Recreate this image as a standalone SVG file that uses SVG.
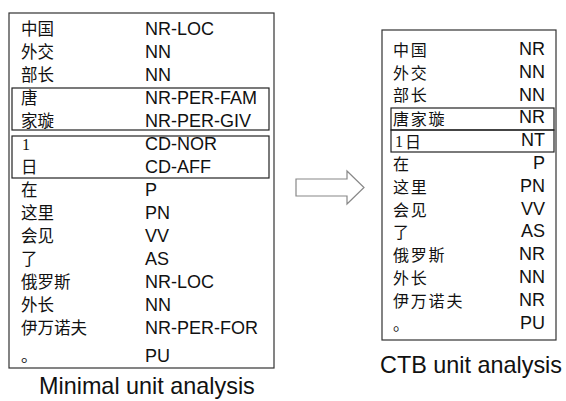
<svg xmlns="http://www.w3.org/2000/svg" width="566" height="401" viewBox="0 0 566 401">
<style>
.box{fill:none;stroke:#333;stroke-width:1.2}
.sub{fill:none;stroke:#222;stroke-width:1.2}
.zh{font-family:"Noto Sans CJK SC","Noto Sans",sans-serif;font-size:16.5px;fill:#111}
.zr{font-family:"Noto Sans CJK SC","Noto Sans",sans-serif;font-size:16px;letter-spacing:1.8px;fill:#111}
.num{font-family:"Liberation Serif",serif;font-size:16px;fill:#111}
.tag{font-family:"Liberation Sans",Arial,sans-serif;font-size:18px;fill:#111}
.tagr{font-family:"Liberation Sans",Arial,sans-serif;font-size:18px;fill:#111;text-anchor:end}
.cap{font-family:"Liberation Sans",Arial,sans-serif;font-size:23.4px;fill:#111}
</style>
<rect width="566" height="401" fill="#fff"/>
<g id="minimal">
<rect class="box" x="9" y="13" width="265" height="355"/>
<rect class="sub" x="12" y="88" width="257" height="42"/>
<rect class="sub" x="12" y="136" width="257" height="42"/>
<text class="zh" x="21" y="35">中国</text><text class="tag" x="145" y="35">NR-LOC</text>
<text class="zh" x="21" y="58">外交</text><text class="tag" x="145" y="58">NN</text>
<text class="zh" x="21" y="81">部长</text><text class="tag" x="145" y="81">NN</text>
<text class="zh" x="21" y="104">唐</text><text class="tag" x="145" y="104">NR-PER-FAM</text>
<text class="zh" x="21" y="127">家璇</text><text class="tag" x="145" y="127">NR-PER-GIV</text>
<text class="num" x="22" y="150">1</text><text class="tag" x="145" y="150">CD-NOR</text>
<text class="zh" x="21" y="173">日</text><text class="tag" x="145" y="173">CD-AFF</text>
<text class="zh" x="21" y="196">在</text><text class="tag" x="145" y="196">P</text>
<text class="zh" x="21" y="219">这里</text><text class="tag" x="145" y="219">PN</text>
<text class="zh" x="21" y="242">会见</text><text class="tag" x="145" y="242">VV</text>
<text class="zh" x="21" y="265">了</text><text class="tag" x="145" y="265">AS</text>
<text class="zh" x="21" y="288">俄罗斯</text><text class="tag" x="145" y="288">NR-LOC</text>
<text class="zh" x="21" y="311">外长</text><text class="tag" x="145" y="311">NN</text>
<text class="zh" x="21" y="334">伊万诺夫</text><text class="tag" x="145" y="334">NR-PER-FOR</text>
<text class="zh" x="21" y="362">。</text><text class="tag" x="145" y="362">PU</text>
</g>
<g id="ctb">
<rect class="box" x="382" y="30" width="174" height="310"/>
<rect class="sub" x="391" y="108" width="163" height="22"/>
<rect class="sub" x="391" y="130" width="163" height="22"/>
<text class="zr" x="393" y="56">中国</text><text class="tagr" x="545" y="55">NR</text>
<text class="zr" x="393" y="79">外交</text><text class="tagr" x="545" y="78">NN</text>
<text class="zr" x="393" y="101">部长</text><text class="tagr" x="545" y="100.6">NN</text>
<text class="zr" x="393" y="124.5">唐家璇</text><text class="tagr" x="545" y="123.4">NR</text>
<text class="num" x="395" y="147">1</text><text class="zr" x="405" y="147.5">日</text><text class="tagr" x="545" y="146.2">NT</text>
<text class="zr" x="393" y="170">在</text><text class="tagr" x="545" y="169">P</text>
<text class="zr" x="393" y="193">这里</text><text class="tagr" x="545" y="191.8">PN</text>
<text class="zr" x="393" y="215.5">会见</text><text class="tagr" x="545" y="214.6">VV</text>
<text class="zr" x="393" y="238">了</text><text class="tagr" x="545" y="237.4">AS</text>
<text class="zr" x="393" y="261">俄罗斯</text><text class="tagr" x="545" y="260.2">NR</text>
<text class="zr" x="393" y="284">外长</text><text class="tagr" x="545" y="283">NN</text>
<text class="zr" x="393" y="306.5">伊万诺夫</text><text class="tagr" x="545" y="305.8">NR</text>
<text class="zr" x="393" y="330">。</text><text class="tagr" x="545" y="328.6">PU</text>
</g>
<g id="connectors">
<polygon points="296,179 347,179 347,171 364,187.5 347,204 347,196 296,196" fill="#fff" stroke="#888" stroke-width="1.2"/>
</g>
<text class="cap" x="39" y="394">Minimal unit analysis</text>
<text class="cap" x="380" y="373">CTB unit analysis</text>
</svg>
